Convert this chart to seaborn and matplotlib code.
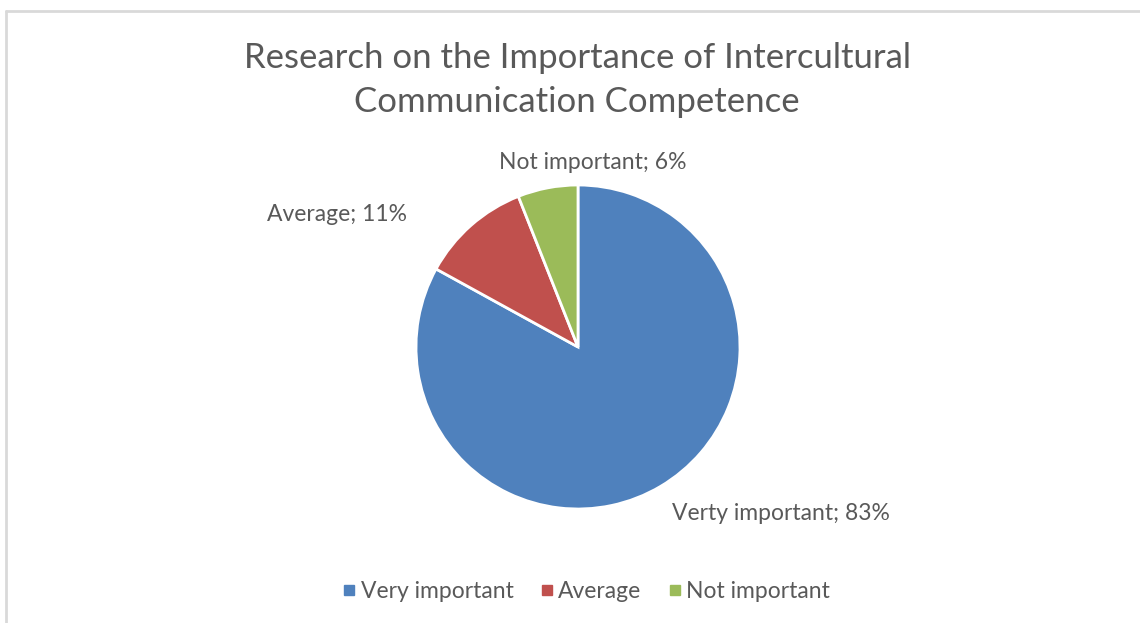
import matplotlib
matplotlib.use("Agg")
import matplotlib.pyplot as plt
import seaborn as sns
from matplotlib.lines import Line2D

sns.set_theme(style="white")
plt.rcParams['font.family'] = ['Lato', 'DejaVu Sans']

title = "Research on the Importance of Intercultural\nCommunication Competence"
categories = ["Very important", "Average", "Not important"]
values = [83, 11, 6]
label_names = ["Verty important", "Average", "Not important"]
colors = sns.color_palette(["#4F81BD", "#C0504D", "#9BBB59"])
text_color = "#595959"

fig = plt.figure(figsize=(11.4, 6.23), dpi=100)
W, H = 1140, 623
cx, cy, r = 578, 623 - 347, 162
ax = fig.add_axes([(cx - r) / W, (cy - r) / H, 2 * r / W, 2 * r / H])
wedges, _ = ax.pie(values, colors=colors, startangle=90, counterclock=False,
                   radius=1.0, wedgeprops=dict(edgecolor="white", linewidth=2))
ax.set_xlim(-1, 1)
ax.set_ylim(-1, 1)
ax.set_aspect("equal")
ax.axis("off")

label_pos = [(1.25, -1.03), (-1.49, 0.82), (0.09, 1.14)]
for name, v, (lx, ly) in zip(label_names, values, label_pos):
    ax.text(lx, ly, f"{name}; {v}%", ha="center", va="center",
            fontsize=16.5, color=text_color, clip_on=False)

fig.text(577 / W, 1 - 80 / H, title, ha="center", va="center",
         fontsize=25, color=text_color, linespacing=1.45)

handles = [Line2D([], [], marker="s", linestyle="none", markersize=6.5,
                  markerfacecolor=c, markeredgecolor=c) for c in colors]
fig.legend(handles, categories, loc="center", bbox_to_anchor=(585 / W, 1 - 592 / H),
           ncol=3, frameon=False, fontsize=16.5, labelcolor=text_color,
           handletextpad=0.1, columnspacing=1.05, handlelength=0.8)

# chart area border (top and left edges visible)
fig.add_artist(Line2D([6 / W, 1], [1 - 11 / H, 1 - 11 / H], color="#D9D9D9", linewidth=2))
fig.add_artist(Line2D([6 / W, 6 / W], [0, 1 - 11 / H], color="#D9D9D9", linewidth=2))

fig.savefig("out.png", dpi=100, facecolor="white")
